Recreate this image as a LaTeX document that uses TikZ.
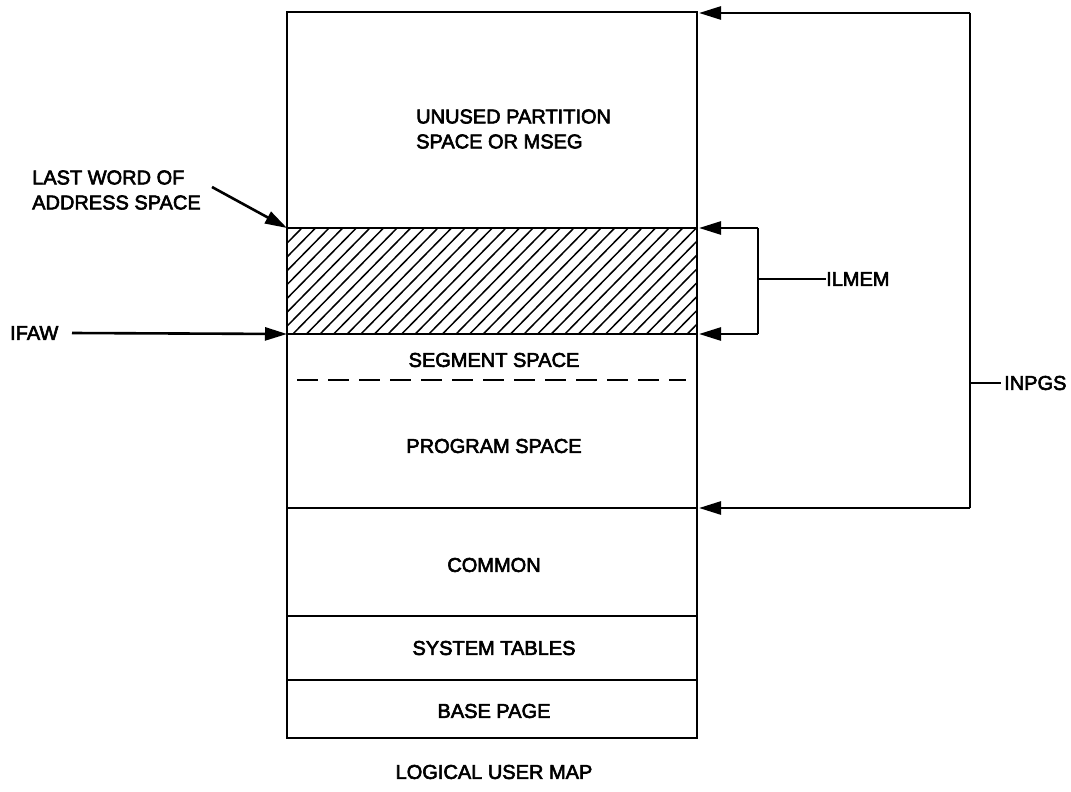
\documentclass[tikz,border=0pt]{standalone}
\usepackage{fontspec}
\setmainfont{Liberation Sans}
\newfontfamily\lblfont[FakeBold=3]{Liberation Sans}
\usetikzlibrary{arrows.meta}
\begin{document}
\begin{tikzpicture}[x=1pt,y=-1pt,
  box/.style={line width=2.4pt},
  lbl/.style={font=\lblfont\fontsize{20}{25}\selectfont, inner sep=0pt},
  conn/.style={line width=2.6pt},
  arr/.style={conn, -{Triangle[length=22pt,width=13pt]}},
  hatch/.style={line width=1.5pt}]
\useasboundingbox (0,0) rectangle (1071,792);
% box coordinates
\coordinate (TL) at (287,12);
\coordinate (BR) at (697,738);
\coordinate (hTL) at (287,228);
\coordinate (hTR) at (697,228);
\coordinate (hBL) at (287,334);
\coordinate (hBR) at (697,334);
\coordinate (pBR) at (697,508);
% hatching
\begin{scope}
  \clip (hTL) rectangle (hBR);
  \foreach \i in {-10,...,32} {
    \draw[hatch] (287+\i*13.6, 340) -- ++(116,-118);
  }
\end{scope}
% main box and dividers
\draw[box] (TL) rectangle (BR);
\draw[box] (hTL) -- (hTR);
\draw[box] (hBL) -- (hBR);
\draw[box] (287,508) -- (pBR);
\draw[box] (287,616) -- (697,616);
\draw[box] (287,680) -- (697,680);
\draw[box, line width=2.8pt, dash pattern=on 21pt off 10pt] (297,380) -- (686,380);
% region labels
\node[lbl, align=left, anchor=west] (unused) at (416,129) {UNUSED PARTITION\\SPACE OR MSEG};
\node[lbl] (seg) at (494,360) {SEGMENT SPACE};
\node[lbl] (prog) at (494,446) {PROGRAM SPACE};
\node[lbl] (common) at (494,565) {COMMON};
\node[lbl] (systab) at (494,648) {SYSTEM TABLES};
\node[lbl] (base) at (494,711) {BASE PAGE};
\node[lbl] (title) at (494,772) {LOGICAL USER MAP};
% left labels
\node[lbl, align=left, anchor=west] (lastword) at (32,190) {LAST WORD OF\\ADDRESS SPACE};
\coordinate (lwstart) at (212,187);
\draw[arr] (lwstart) -- (hTL);
\node[lbl, anchor=west] (ifaw) at (10,333) {IFAW};
\coordinate (ifawstart) at (72,333);
\draw[arr] (ifawstart) -- (hBL);
% ILMEM bracket
\coordinate (ilT) at (758,228);
\coordinate (ilB) at (758,334);
\coordinate (ilM) at (758,279);
\node[lbl, anchor=west] (ilmem) at (826,279) {ILMEM};
\draw[conn] (ilT) -- (ilB);
\draw[arr] (ilT) -- ([xshift=2pt]hTR);
\draw[arr] (ilB) -- ([xshift=2pt]hBR);
\draw[conn] (ilM) -- (ilmem.west);
% INPGS bracket
\coordinate (inT) at (970,13);
\coordinate (inB) at (970,508);
\coordinate (inM) at (970,383);
\coordinate (topR) at (699,13);
\node[lbl, anchor=west] (inpgs) at (1004,383) {INPGS};
\draw[conn] (inT) -- (inB);
\draw[arr] (inT) -- (topR);
\draw[arr] (inB) -- ([xshift=2pt]pBR);
\draw[conn] (inM) -- ([xshift=-3pt]inpgs.west);
\end{tikzpicture}
\end{document}
